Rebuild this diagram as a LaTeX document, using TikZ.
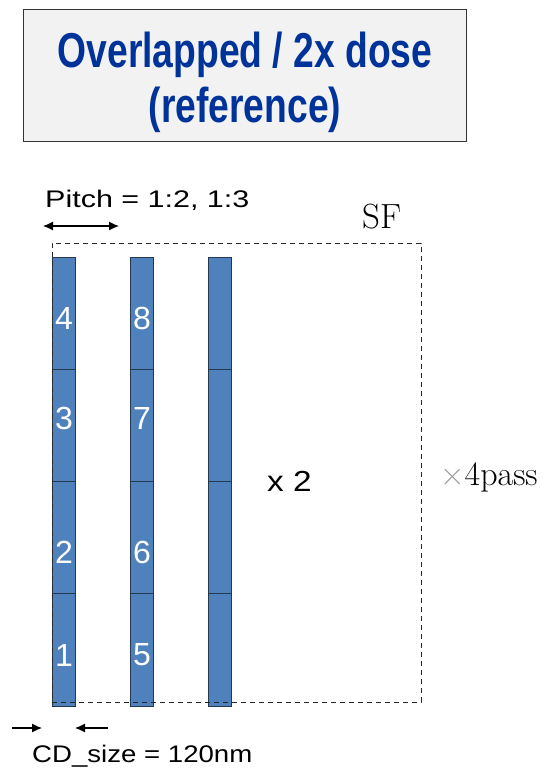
\documentclass[tikz,border=0pt]{standalone}
\usepackage{fontspec}
\usepackage{tikz}
\usetikzlibrary{positioning}
\usetikzlibrary{arrows.meta}
\newfontfamily\titlefont[FakeStretch=0.76]{Liberation Sans}
\newfontfamily\labelfont[FakeStretch=1.15]{Liberation Sans}
\newfontfamily\pitchfont[FakeStretch=1.27]{Liberation Sans}
\newfontfamily\digitfont{Liberation Sans}
\definecolor{titleblue}{RGB}{0,51,153}
\definecolor{titlegray}{RGB}{242,242,242}
\definecolor{barblue}{RGB}{79,129,189}
\definecolor{barline}{RGB}{38,55,80}
\tikzstyle{titlebox}=[rectangle,draw=black!80,fill=titlegray,line width=1.2pt,minimum width=443pt,minimum height=132pt,inner sep=0pt]
\tikzstyle{titletext}=[font=\titlefont\bfseries\fontsize{49}{55}\selectfont,text=titleblue,align=center,inner sep=0pt]
\tikzstyle{stripe}=[rectangle,draw=barline,fill=barblue,line width=0.8pt,minimum width=22.5pt,minimum height=112.25pt,inner sep=0pt]
\tikzstyle{segnum}=[font=\digitfont\fontsize{32}{38}\selectfont,text=white,inner sep=0pt]
\tikzstyle{sidetext}=[font=\labelfont\fontsize{24}{28}\selectfont,anchor=base west,inner sep=0pt]
\tikzstyle{bigside}=[sidetext,font=\labelfont\fontsize{29}{34}\selectfont]
\tikzstyle{romantext}=[font=\rmfamily\fontsize{35}{40}\selectfont,anchor=base west,inner sep=0pt]
\tikzstyle{sfframe}=[rectangle,draw=black!85,line width=0.8pt,dash pattern=on 5pt off 4pt,minimum width=369pt,minimum height=459pt,inner sep=0pt]
\tikzstyle{dim}=[line width=1.2pt,arrows={-Latex[length=10pt,width=9pt]}]

\begin{document}
\begin{tikzpicture}[x=1pt,y=-1pt]
\useasboundingbox (0,0) rectangle (550,770);

%title
\node[titlebox] (title) at (245,75.5) {};
\node[titletext] (title-text) at (245,82) {Overlapped / 2x dose\\(reference)};

%bars
    \foreach \x/\col in {64/a, 142/b, 220/c}
      \foreach \y/\row in {313.125/1, 425.375/2, 537.625/3, 649.875/4}
        \node[stripe] (\col\row) at (\x,\y) {};

    \foreach \pos/\name/\label in {{(64,318)/n4/4}, {(64,418)/n3/3}, {(64,552)/n2/2}, {(64,655)/n1/1},
                                    {(142,318)/n8/8}, {(142,418)/n7/7}, {(142,552)/n6/6}, {(142,655)/n5/5}}
        \node[segnum] (\name) at \pos {\label};

%SF
\node[sfframe] (sf) at (236.5,472.5) {};
\node[romantext] (sf-label) at (362,228) {SF};
\node[romantext,font=\rmfamily\fontsize{34}{40}\selectfont] (passes) at (440,485) {\textcolor{black!40}{×}4pass};
\node[bigside] (times) at (267,491) {x 2};

%pitch
\node[sidetext,font=\pitchfont\fontsize{24}{28}\selectfont] (pitch) at (45,207) {Pitch = 1:2, 1:3};
\coordinate (pitch-l) at (43,226);
\coordinate (pitch-r) at (119,226);
\draw[dim,arrows={Latex[length=10pt,width=9pt]-Latex[length=10pt,width=9pt]}] (pitch-l) -- (pitch-r);

%CD
\coordinate (cd-l0) at (12,728);
\coordinate (cd-l1) at (42,728);
\coordinate (cd-r0) at (108,728);
\coordinate (cd-r1) at (75,728);
\draw[dim] (cd-l0) -- (cd-l1);
\draw[dim] (cd-r0) -- (cd-r1);
\node[sidetext] (cd) at (32,762) {CD\_size = 120nm};

   \end{tikzpicture}
\end{document}
